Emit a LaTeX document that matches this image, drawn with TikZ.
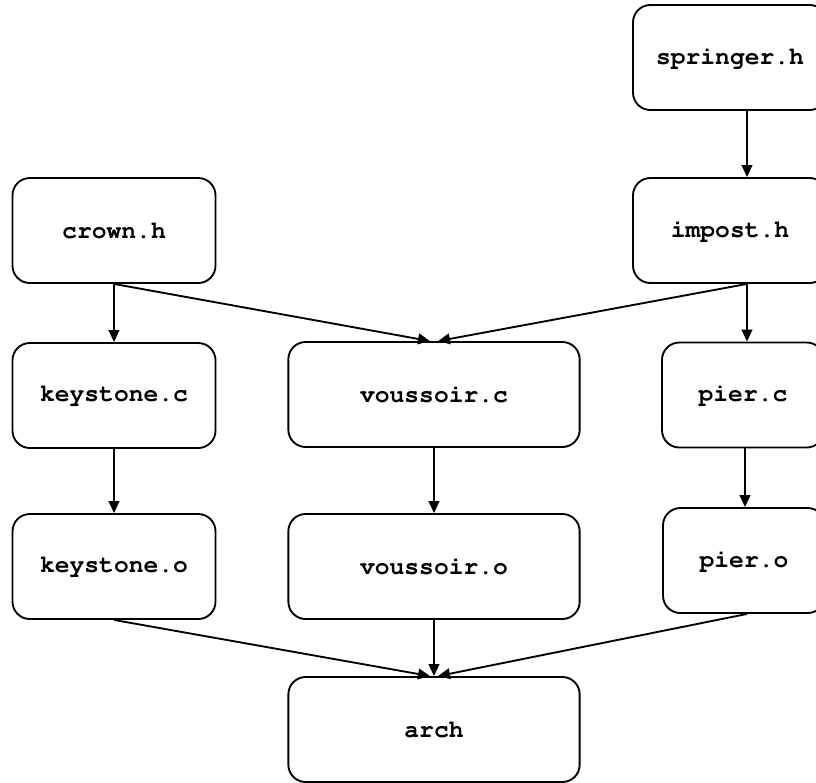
\documentclass[tikz,border=0pt]{standalone}
\usepackage[T1]{fontenc}
\usepackage{courier}
\usetikzlibrary{arrows.meta,calc}
\begin{document}
\begin{tikzpicture}[x=0.75pt,y=-0.75pt,
  box/.style={draw, rounded corners=13pt, line width=1.4pt, inner sep=0pt,
    minimum height=78.75pt,
    font=\ttfamily\bfseries\fontsize{18.5}{22}\selectfont},
  narrow/.style={box, minimum width=152.25pt},
  wide/.style={box, minimum width=218.5pt},
  rightbox/.style={box, minimum width=145.5pt},
  pierbox/.style={box, minimum width=121.5pt},
  edge/.style={line width=1.4pt, -{Triangle[length=9pt,width=8pt]}}]
\useasboundingbox (0,0) rectangle (816,782);
\clip (0,0) rectangle (816,782);
\fill[white] (0,0) rectangle (816,782);

\node[rightbox] (spr) at (730,57.5) {springer.h};
\node[narrow] (crown) at (114,230.5) {crown.h};
\node[rightbox] (imp) at (730,230.5) {impost.h};
\node[narrow] (ksc) at (114,395.5) {keystone.c};
\node[wide] (vsc) at (434,394.5) {voussoir.c};
\node[pierbox] (prc) at (743,395) {pier.c};
\node[narrow] (kso) at (114,566.5) {keystone.o};
\node[wide] (vso) at (434,566.5) {voussoir.o};
\node[pierbox] (pro) at (744,560.5) {pier.o};
\node[wide] (arch) at (434,729.5) {arch};

\draw[edge] ($(spr.south)+(17,0)$) -- ($(imp.north)+(17,0)$);
\draw[edge] ($(imp.south)+(17,0)$) -- ($(prc.north)+(4,0)$);
\draw[edge] ($(imp.south)+(17,0)$) -- ($(vsc.north)+(4,0)$);
\draw[edge] (crown.south) -- (ksc.north);
\draw[edge] (crown.south) -- ($(vsc.north)+(-4,0)$);
\draw[edge] (ksc.south) -- (kso.north);
\draw[edge] (vsc.south) -- (vso.north);
\draw[edge] ($(prc.south)+(2,0)$) -- ($(pro.north)+(1,0)$);
\draw[edge] (kso.south) -- ($(arch.north)+(-4,0)$);
\draw[edge] (vso.south) -- (arch.north);
\draw[edge] ($(pro.south)+(3,0)$) -- ($(arch.north)+(4,0)$);
\end{tikzpicture}
\end{document}
